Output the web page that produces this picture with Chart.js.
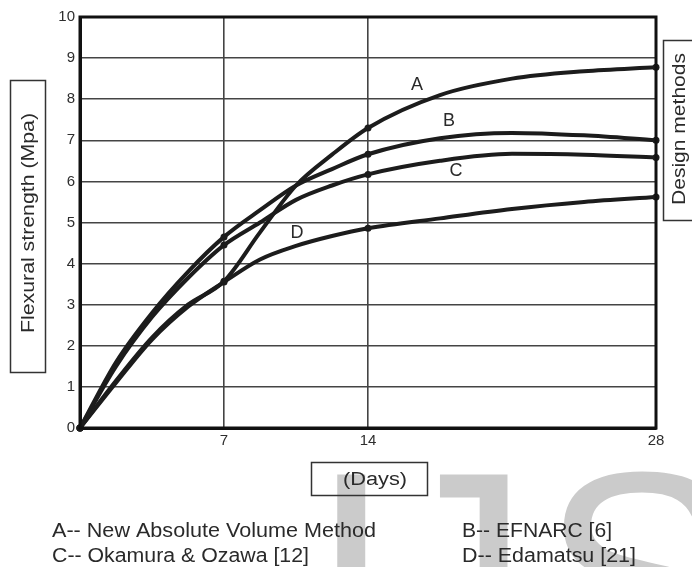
<!DOCTYPE html>
<html>
<head>
<meta charset="utf-8">
<script src="https://cdn.jsdelivr.net/npm/chart.js@4.4.1/dist/chart.umd.min.js"></script>
<style>
  html, body { margin: 0; padding: 0; background: #ffffff; }
  #wrap { width: 692px; height: 567px; position: relative; }
  canvas { display: block; }
</style>
</head>
<body>
<div id="wrap"><canvas id="c" width="692" height="567"></canvas></div>
<script>
// ---- data ----
const days = [0, 1.75, 3.5, 5.25, 7, 8.75, 10.5, 12.25, 14, 17.5, 21, 24.5, 28];
const markedDays = [0, 7, 14, 28];
const seriesA = [0, 1.15, 2.2, 3.0, 3.57, 4.76, 5.9, 6.65, 7.3, 8.1, 8.5, 8.68, 8.78];
const seriesB = [0, 1.6, 2.8, 3.8, 4.65, 5.3, 5.9, 6.3, 6.66, 7.05, 7.18, 7.12, 7.0];
const seriesC = [0, 1.5, 2.7, 3.65, 4.45, 5.0, 5.55, 5.9, 6.17, 6.5, 6.67, 6.65, 6.58];
const seriesD = [0, 1.1, 2.15, 2.95, 3.55, 4.1, 4.43, 4.67, 4.86, 5.1, 5.33, 5.5, 5.62];
const seriesLetters = ['A', 'B', 'C', 'D'];
const letterAnchorX = [16.38, 17.94, 18.28, 10.55];
const letterAnchorY = [8.35, 7.47, 6.25, 4.74];
const xTickValues = [7, 14, 28];
const yTickValues = [0, 1, 2, 3, 4, 5, 6, 7, 8, 9, 10];
const legendLines = [
  'A-- New Absolute Volume Method',
  'B-- EFNARC [6]',
  'C-- Okamura & Ozawa [12]',
  'D-- Edamatsu [21]'
];
const yTitle = 'Flexural strength (Mpa)';
const xTitle = '(Days)';
const sideTitle = 'Design methods';
const watermark = ['I', 'J', 'S'];

const FONT = '"Liberation Sans", Arial, sans-serif';
const INK = '#1c1c1c';

function toPoints(vals) { return days.map((d, i) => ({ x: d, y: vals[i] })); }

function fitText(ctx, text, x, y, size, targetW) {
  ctx.font = size + 'px ' + FONT;
  const w = ctx.measureText(text).width;
  ctx.save();
  ctx.translate(x, y);
  ctx.scale(targetW / w, 1);
  ctx.textAlign = 'left';
  ctx.textBaseline = 'alphabetic';
  ctx.fillText(text, 0, 0);
  ctx.restore();
}

const decor = {
  id: 'decor',
  beforeDraw(chart) {
    const ctx = chart.ctx;
    ctx.save();
    ctx.fillStyle = '#ffffff';
    ctx.fillRect(0, 0, chart.width, chart.height);
    ctx.fillStyle = '#cbcbcb';
    ctx.font = '300px ' + FONT;
    ctx.textBaseline = 'alphabetic';
    ctx.textAlign = 'left';
    const mI = ctx.measureText(watermark[0]);
    const base = 470 + mI.actualBoundingBoxAscent;
    ctx.fillText(watermark[0], 333 + mI.actualBoundingBoxLeft, base);
    const mJ = ctx.measureText(watermark[1]);
    ctx.fillText(watermark[1], 511 - mJ.actualBoundingBoxRight, base);
    const mS = ctx.measureText(watermark[2]);
    ctx.fillText(watermark[2], 550 + mS.actualBoundingBoxLeft, base);
    ctx.restore();
  },
  afterDatasetsDraw(chart) {
    const ctx = chart.ctx;
    const a = chart.chartArea;
    const xs = chart.scales.x, ys = chart.scales.y;
    ctx.save();
    ctx.strokeStyle = '#111';
    ctx.lineWidth = 3;
    ctx.strokeRect(a.left, a.top, a.right - a.left, a.bottom - a.top);
    ctx.fillStyle = '#2a2a2a';
    ctx.font = '18px ' + FONT;
    ctx.textAlign = 'center';
    ctx.textBaseline = 'middle';
    seriesLetters.forEach((L, i) => {
      ctx.fillText(L, xs.getPixelForValue(letterAnchorX[i]), ys.getPixelForValue(letterAnchorY[i]));
    });
    ctx.restore();
  },
  afterDraw(chart) {
    const ctx = chart.ctx;
    ctx.save();
    ctx.strokeStyle = '#333';
    ctx.lineWidth = 1.5;
    ctx.fillStyle = '#2a2a2a';
    ctx.strokeRect(10.5, 80.5, 35, 292);
    ctx.save();
    ctx.translate(34, 333);
    ctx.rotate(-Math.PI / 2);
    fitText(ctx, yTitle, 0, 0, 18, 220);
    ctx.restore();
    ctx.strokeRect(663.5, 40.5, 40, 180);
    ctx.save();
    ctx.translate(685, 205);
    ctx.rotate(-Math.PI / 2);
    fitText(ctx, sideTitle, 0, 0, 18, 152);
    ctx.restore();
    ctx.strokeRect(311.5, 462.5, 116, 33);
    fitText(ctx, xTitle, 343, 485, 18, 64);
    fitText(ctx, legendLines[0], 52, 537, 20, 324);
    fitText(ctx, legendLines[1], 462, 537, 20, 150);
    fitText(ctx, legendLines[2], 52, 562, 20, 257);
    fitText(ctx, legendLines[3], 462, 562, 20, 174);
    ctx.restore();
  }
};

const seriesAll = [seriesA, seriesB, seriesC, seriesD];

new Chart(document.getElementById('c'), {
  type: 'line',
  data: {
    datasets: seriesAll.map((s, i) => ({
      label: seriesLetters[i],
      data: toPoints(s),
      borderColor: INK,
      backgroundColor: INK,
      borderWidth: 4,
      cubicInterpolationMode: 'monotone',
      fill: false,
      clip: false,
      pointRadius: (c) => markedDays.includes(days[c.dataIndex]) ? 3.5 : 0,
      pointBackgroundColor: INK,
      pointBorderColor: INK,
      pointBorderWidth: 0
    }))
  },
  options: {
    responsive: false,
    animation: false,
    devicePixelRatio: 1,
    layout: { padding: { left: 0, right: 36, top: 17, bottom: 0 } },
    plugins: { legend: { display: false }, tooltip: { enabled: false } },
    scales: {
      x: {
        type: 'linear',
        min: 0, max: 28,
        afterBuildTicks: (s) => { s.ticks = xTickValues.map(v => ({ value: v })); },
        afterFit: (s) => { s.height = 139; },
        grid: { color: '#444', lineWidth: 1.6, drawTicks: false },
        border: { color: '#111', width: 3 },
        ticks: { color: '#2e2e2e', font: { size: 15, family: FONT }, padding: 4, maxRotation: 0, autoSkip: false }
      },
      y: {
        type: 'linear',
        min: 0, max: 10,
        afterBuildTicks: (s) => { s.ticks = yTickValues.map(v => ({ value: v })); },
        afterFit: (s) => { s.width = 80; },
        grid: { color: '#444', lineWidth: 1.6, drawTicks: false },
        border: { color: '#111', width: 3 },
        ticks: { color: '#2e2e2e', font: { size: 15, family: FONT }, padding: 5 }
      }
    }
  },
  plugins: [decor]
});
</script>
</body>
</html>
